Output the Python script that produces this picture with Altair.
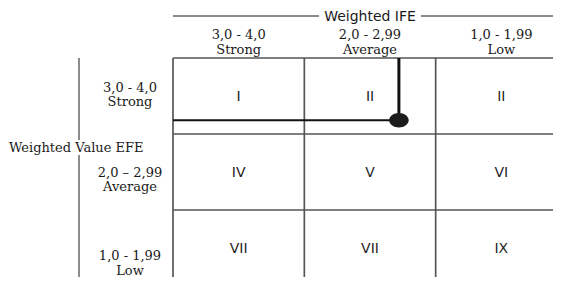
import altair as alt
import pandas as pd

# ---------------- data ----------------
ife_ranges = ["3,0 - 4,0", "2,0 - 2,99", "1,0 - 1,99"]
ife_names = ["Strong", "Average", "Low"]
efe_ranges = ["3,0 - 4,0", "2,0 \u2013 2,99", "1,0 - 1,99"]
efe_names = ["Strong", "Average", "Low"]
band_upper = [4.0, 3.0, 2.0]
band_lower = [3.0, 2.0, 1.0]
cells = [["I", "II", "II"], ["IV", "V", "VI"], ["VII", "VII", "IX"]]
ife_score = [2.28]
efe_score = [3.18]
x_title = "Weighted IFE"
y_title = "Weighted Value EFE"

# ---------------- layout ----------------
W, H = 545, 269
X_RANGE = [165, 559]
Y_RANGE = [50, 278]
PX_PER_Y = (Y_RANGE[1] - Y_RANGE[0]) / 3.0
ROW_LABEL_DY = [(-4, 10), (4.5, 19), (12, 27)]
SERIF = "DejaVu Serif"
SANS = "DejaVu Sans"
GRID = "#555555"
INK = "#1a1a1a"

xs = alt.Scale(domain=[4, 1], range=X_RANGE)
ys = alt.Scale(domain=[4, 1], range=Y_RANGE)

mids = [(u + l) / 2 for u, l in zip(band_upper, band_lower)]


def X(f):
    return alt.X(f"{f}:Q", scale=xs, axis=None)


def Y(f):
    return alt.Y(f"{f}:Q", scale=ys, axis=None)


# grid lines
vgrid_df = pd.DataFrame({"ife": band_upper, "efe": [band_upper[0]] * 3, "efe2": [band_lower[-1]] * 3})
hgrid_df = pd.DataFrame({"efe": band_upper, "ife": [band_upper[0]] * 3, "ife2": [band_lower[-1]] * 3})
vgrid = alt.Chart(vgrid_df).mark_rule(color=GRID, strokeWidth=1.7).encode(
    x=X("ife"), y=Y("efe"), y2="efe2")
hgrid = alt.Chart(hgrid_df).mark_rule(color=GRID, strokeWidth=1.7).encode(
    y=Y("efe"), x=X("ife"), x2="ife2")

# header line around the IFE title
head_df = pd.DataFrame({"ife": [band_upper[0]]})
headA = alt.Chart(head_df).mark_rule(color=INK, strokeWidth=1).encode(
    x=X("ife"), x2=alt.value(311), y=alt.value(8))
headB = alt.Chart(head_df).mark_rule(color=INK, strokeWidth=1).encode(
    x=alt.value(413), x2=alt.value(W), y=alt.value(8))
title_df = pd.DataFrame({"ife": [mids[1]], "t": [x_title]})
xtitle = alt.Chart(title_df).mark_text(font=SANS, fontSize=14, color=INK, align="center",
                                        baseline="alphabetic").encode(
    x=X("ife"), y=alt.value(12.5), text="t:N")

# column headers
col_df = pd.DataFrame({"ife": mids, "r": ife_ranges, "n": ife_names})
col1 = alt.Chart(col_df).mark_text(font=SERIF, fontSize=13, color=INK, align="center",
                                    baseline="alphabetic").encode(
    x=X("ife"), y=alt.value(31), text="r:N")
col2 = alt.Chart(col_df).mark_text(font=SERIF, fontSize=13, color=INK, align="center",
                                    baseline="alphabetic").encode(
    x=X("ife"), y=alt.value(46), text="n:N")

# row headers
row_df = pd.DataFrame({
    "y1": [m - d[0] / PX_PER_Y for m, d in zip(mids, ROW_LABEL_DY)],
    "y2": [m - d[1] / PX_PER_Y for m, d in zip(mids, ROW_LABEL_DY)],
    "r": efe_ranges, "n": efe_names})
row1 = alt.Chart(row_df).mark_text(font=SERIF, fontSize=13, color=INK, align="center",
                                    baseline="alphabetic").encode(
    x=alt.value(122), y=Y("y1"), text="r:N")
row2 = alt.Chart(row_df).mark_text(font=SERIF, fontSize=13, color=INK, align="center",
                                    baseline="alphabetic").encode(
    x=alt.value(122), y=Y("y2"), text="n:N")

# left title and bracket line
ytitle_df = pd.DataFrame({"t": [y_title]})
ytitle = alt.Chart(ytitle_df).mark_text(font=SERIF, fontSize=13, color=INK, align="left",
                                         baseline="alphabetic").encode(
    x=alt.value(1), y=alt.value(144), text="t:N")
lv_df = pd.DataFrame({"top": [band_upper[0]], "bot": [band_lower[-1]]})
lvA = alt.Chart(lv_df).mark_rule(color=INK, strokeWidth=1).encode(
    x=alt.value(71), y=Y("top"), y2=alt.value(132))
lvB = alt.Chart(lv_df).mark_rule(color=INK, strokeWidth=1).encode(
    x=alt.value(71), y=Y("bot"), y2=alt.value(147))

# cell numerals
cell_rows = []
for i, em in enumerate(mids):
    for j, im in enumerate(mids):
        cell_rows.append({"ife": im, "efe": em, "t": cells[i][j]})
cell_df = pd.DataFrame(cell_rows)
cell_text = alt.Chart(cell_df).mark_text(font=SANS, fontSize=14, color="#1e1e1e", align="center",
                                          baseline="alphabetic", dy=4.5).encode(
    x=X("ife"), y=Y("efe"), text="t:N")

# position point and connectors
pt_df = pd.DataFrame({"ife": ife_score, "efe": efe_score,
                      "top": [band_upper[0]], "left": [band_upper[0]]})
vconn = alt.Chart(pt_df).mark_rule(color="#111111", strokeWidth=3).encode(
    x=X("ife"), y=Y("efe"), y2="top")
hconn = alt.Chart(pt_df).mark_rule(color="#111111", strokeWidth=2).encode(
    y=Y("efe"), x=X("left"), x2="ife")
ELLIPSE = "M-1,0A1,0.74,0,1,0,1,0A1,0.74,0,1,0,-1,0Z"
point = alt.Chart(pt_df).mark_point(filled=True, shape=ELLIPSE, size=380, color="#1c1c1c",
                                     opacity=1).encode(
    x=X("ife"), y=Y("efe"))

chart = alt.layer(
    vgrid, hgrid, headA, headB, xtitle, col1, col2, row1, row2, ytitle, lvA, lvB,
    cell_text, vconn, hconn, point
).properties(
    width=W, height=H, autosize=alt.AutoSizeParams(type="none"), padding=0,
    background="white"
).configure_view(stroke=None)

chart.save("out.html", embed_options={"renderer": "svg", "actions": False})
